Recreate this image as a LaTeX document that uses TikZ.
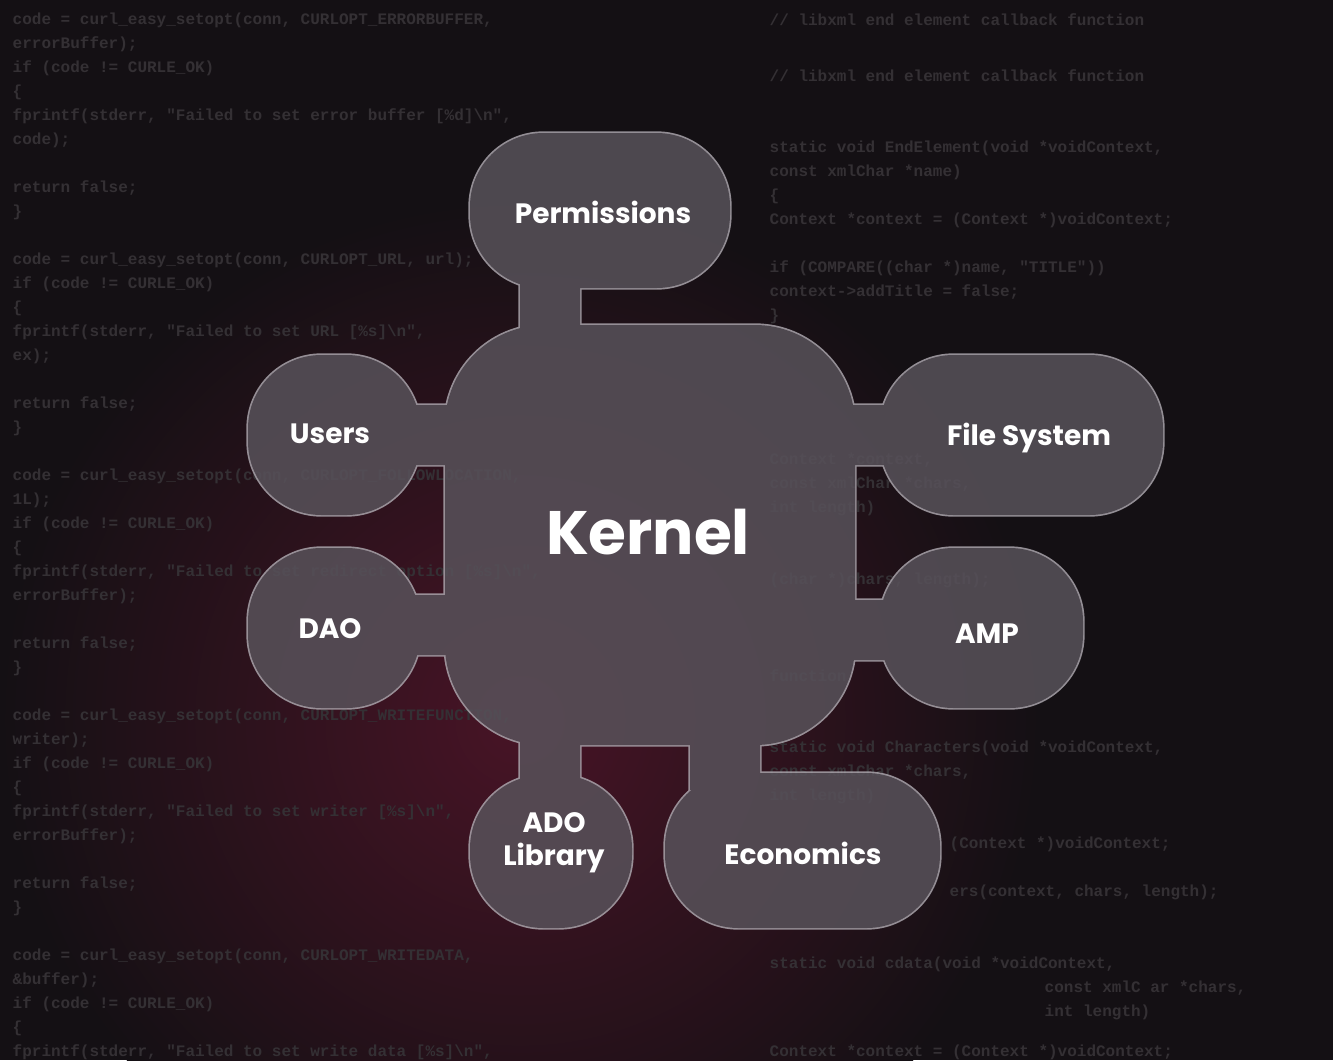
\documentclass[tikz,border=0pt]{standalone}
\usepackage{fontspec}
\setmainfont{Poppins}
\newfontfamily\codef{Liberation Mono}
\definecolor{bgc}{RGB}{20,16,20}
\definecolor{redc}{RGB}{72,20,38}
\definecolor{codec}{RGB}{52,48,52}
\definecolor{fillc}{RGB}{88,82,90}
\definecolor{edgec}{RGB}{170,165,172}
\begin{document}
\begin{tikzpicture}[x=0.75pt,y=-0.75pt,
  lobe/.style={rounded corners=55},
  lab/.style={text=white,font=\bfseries\fontsize{21}{25}\selectfont,align=center},
  code/.style={text=codec,font=\codef\bfseries\fontsize{12}{14}\selectfont,anchor=west}]
\useasboundingbox (0,0) rectangle (1333,1060);
\begin{scope}
\clip (0,0) rectangle (1333,1060);
\fill[bgc] (0,0) rectangle (1333,1060);
\shade[inner color=redc,outer color=bgc] (520,720) circle[radius=520];
\end{scope}
% background code
\foreach \y/\t in {20/{code = curl\_easy\_setopt(conn, CURLOPT\_ERRORBUFFER,},44/{errorBuffer);},68/{ if (code != CURLE\_OK)},92/{ \{},116/{   fprintf(stderr, "Failed to set error buffer [\%d]\textbackslash n",},140/{code);},188/{   return false;},212/{ \}},260/{ code = curl\_easy\_setopt(conn, CURLOPT\_URL, url);},284/{ if (code != CURLE\_OK)},308/{ \{},332/{   fprintf(stderr, "Failed to set URL [\%s]\textbackslash n",},356/{ex);},404/{   return false;},428/{ \}},476/{ code = curl\_easy\_setopt(conn, CURLOPT\_FOLLOWLOCATION,},500/{1L);},524/{ if (code != CURLE\_OK)},548/{ \{},572/{   fprintf(stderr, "Failed to set redirect option [\%s]\textbackslash n",},596/{errorBuffer);},644/{   return false;},668/{ \}},716/{ code = curl\_easy\_setopt(conn, CURLOPT\_WRITEFUNCTION,},740/{writer);},764/{ if (code != CURLE\_OK)},788/{ \{},812/{   fprintf(stderr, "Failed to set writer [\%s]\textbackslash n",},836/{errorBuffer);},884/{   return false;},908/{ \}},956/{ code = curl\_easy\_setopt(conn, CURLOPT\_WRITEDATA,},980/{\&buffer);},1004/{ if (code != CURLE\_OK)},1028/{ \{},1052/{   fprintf(stderr, "Failed to set write data [\%s]\textbackslash n",}}
  {\node[code] at (8,\y) {\t};}
\foreach \y/\t in {20/{// libxml end element callback function},76/{//  libxml end element callback function},148/{static void EndElement(void *voidContext,},172/{                 const xmlChar *name)},196/{\{},220/{  Context *context = (Context *)voidContext;},268/{  if (COMPARE((char *)name, "TITLE"))},292/{    context->addTitle = false;},316/{\}},460/{Context *context,},484/{const xmlChar *chars,},508/{int length)},580/{(char *)chars, length);},676/{function},748/{static void Characters(void *voidContext,},772/{                 const xmlChar *chars,},796/{                 int length)},1052/{  Context *context = (Context *)voidContext;}}
  {\node[code] at (765,\y) {\t};}
\node[code] at (945,844) {(Context *)voidContext;};
\node[code] at (945,892) {ers(context, chars, length);};
\node[code] at (765,964) {static void cdata(void *voidContext,};
\node[code] at (1040,988) {const xmlC ar *chars,};
\node[code] at (1040,1012) {int length)};
% blob
\begin{scope}[transparency group,opacity=0.85]
 \foreach \p in {1,2}{
  \ifnum\p=1 \tikzset{bl/.style={draw=edgec,line width=2.5pt}}\else\tikzset{bl/.style={fill=fillc}}\fi
  \path[bl,rounded corners=75] (445,325) rectangle (855,745);
  \path[bl,lobe] (470,133) rectangle (730,288);
  \path[bl,lobe] (248,355) rectangle (420,515);
  \path[bl,lobe] (248,548) rectangle (420,708);
  \path[bl,lobe] (880,355) rectangle (1163,515);
  \path[bl,lobe] (880,548) rectangle (1083,708);
  \path[bl,lobe] (470,775) rectangle (632,928);
  \path[bl,lobe] (665,773) rectangle (940,928);
  \path[bl] (520,270) rectangle (580,340);
  \path[bl] (405,405) rectangle (460,465);
  \path[bl] (405,595) rectangle (460,655);
  \path[bl] (840,405) rectangle (895,465);
  \path[bl] (840,600) rectangle (895,660);
  \path[bl] (520,730) rectangle (580,790);
  \path[bl] (690,730) rectangle (760,790);
 }
\end{scope}
\node[lab] (perm) at (603,212) {Permissions};
\node[lab] (users) at (330,434) {Users};
\node[lab] (dao) at (330,629) {DAO};
\node[lab] (fs) at (1029,438) {File System};
\node[lab] (amp) at (987,634) {AMP};
\node[lab] (ado) at (554,843) {ADO\\Library};
\node[lab] (eco) at (803,853) {Economics};
\node[text=white,font=\bfseries\fontsize{46}{50}\selectfont] (kernel) at (648,532) {Kernel};
\end{tikzpicture}
\end{document}
